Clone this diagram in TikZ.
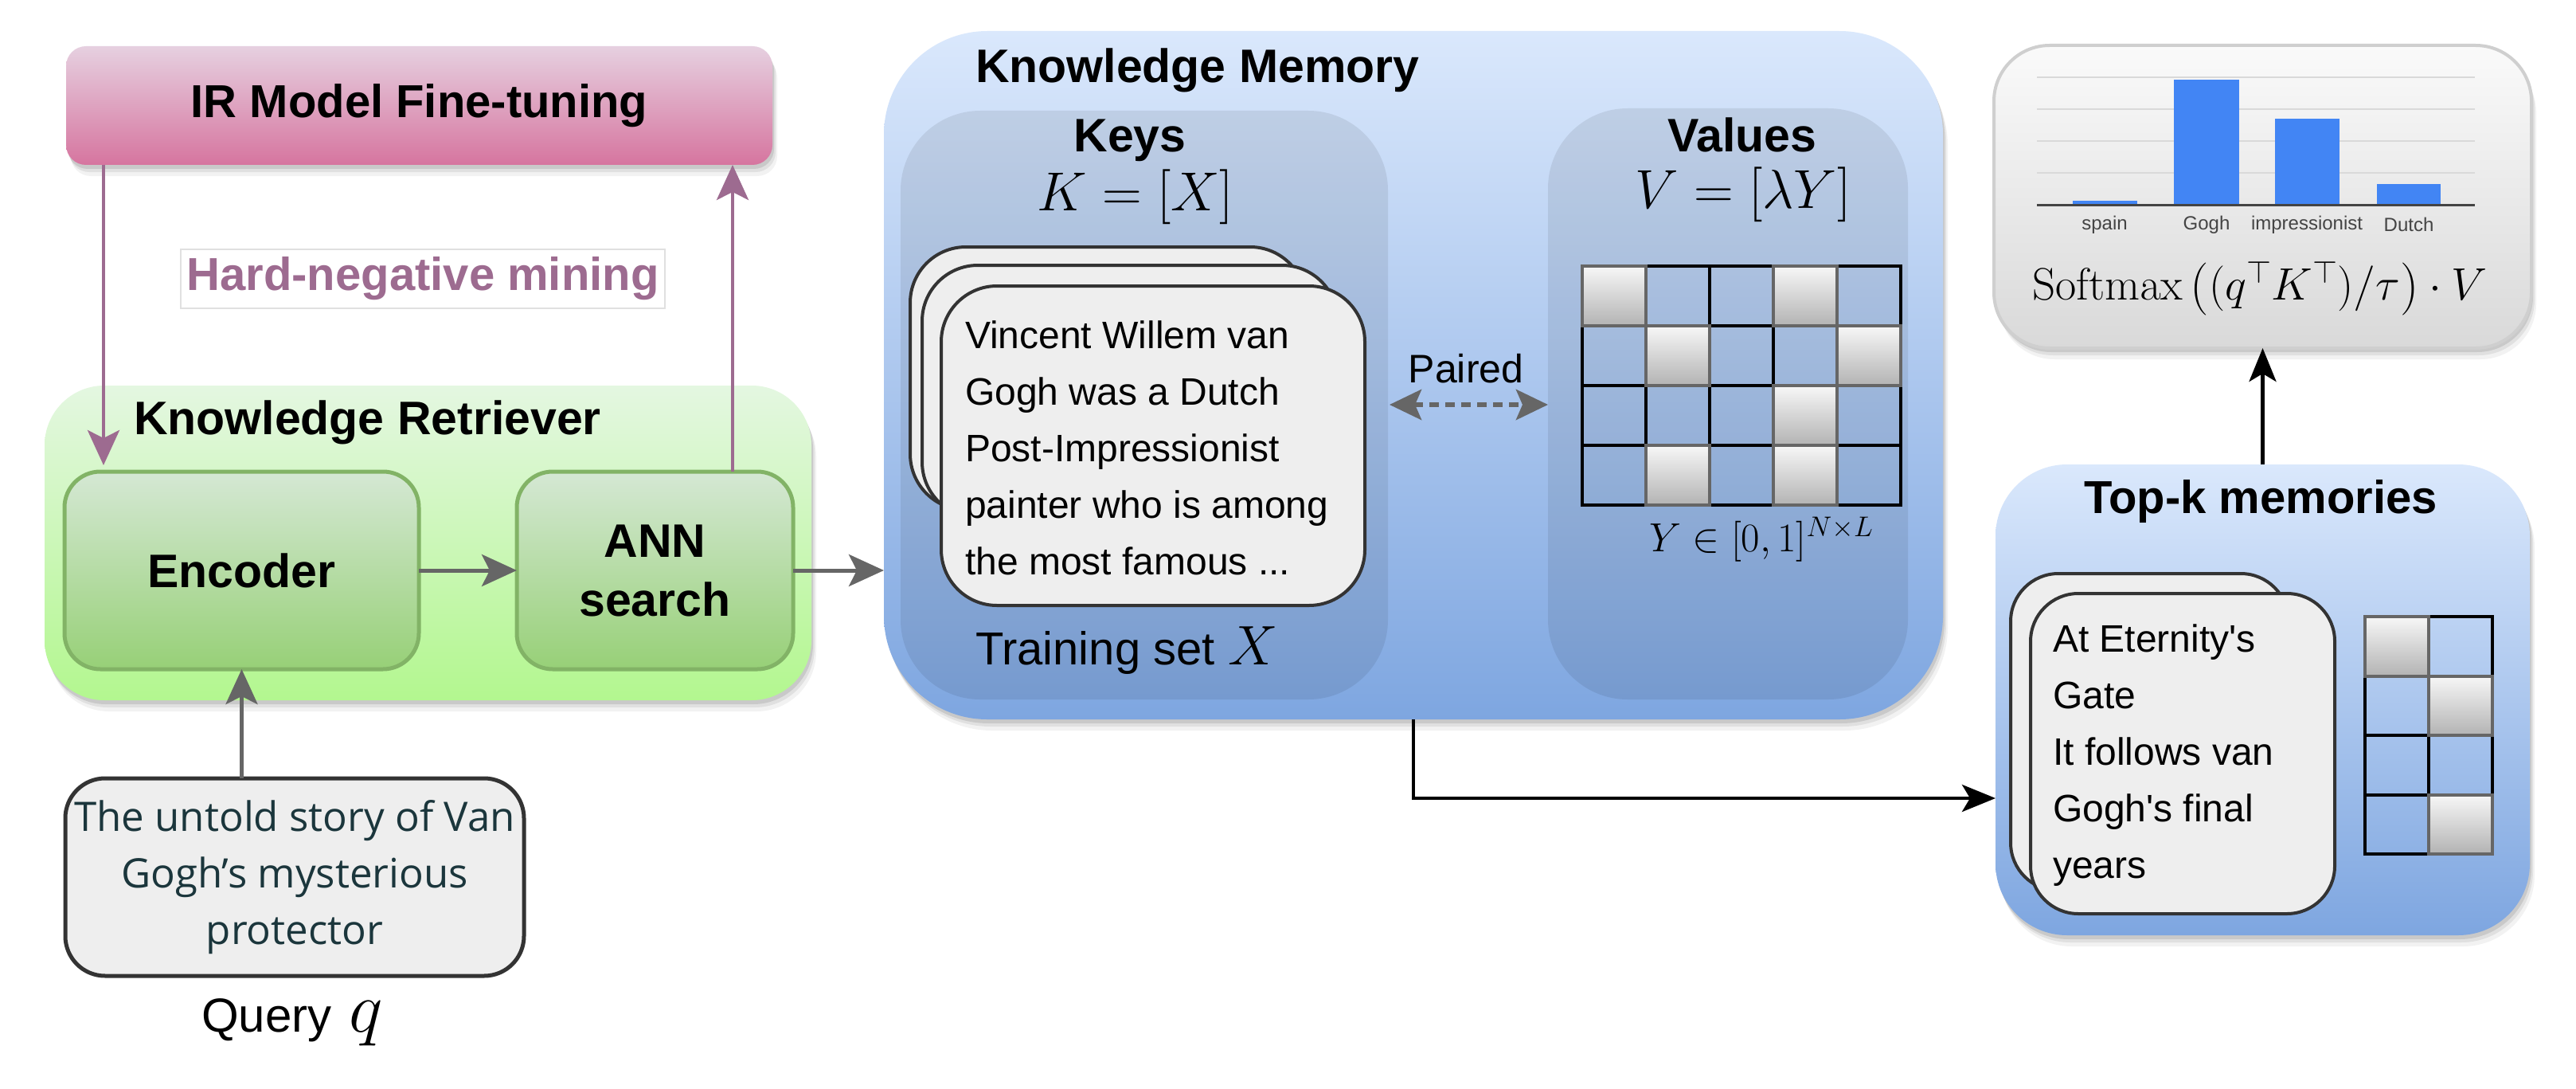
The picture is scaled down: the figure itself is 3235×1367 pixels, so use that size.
\documentclass[tikz,border=0pt]{standalone}
\usepackage{fix-cm}
\usepackage[no-math]{fontspec}
\setmainfont{Liberation Sans}[Ligatures=TeXOff]
\newfontfamily\qfont{Open Sans}
\usetikzlibrary{arrows.meta,shadows,calc}
\newcommand{\fsz}[2]{\fontsize{#1}{#2}\selectfont}
\newcommand{\bigpar}[1]{\raisebox{-3pt}{\fsz{66}{70}$#1$}}
\definecolor{purp}{HTML}{9D6B90}
\definecolor{irtop}{HTML}{E6D0E0}
\definecolor{irbot}{HTML}{D6759F}
\definecolor{krtop}{HTML}{E4F7E1}
\definecolor{krbot}{HTML}{B3F78F}
\definecolor{gtop}{HTML}{D5E8D4}
\definecolor{gbot}{HTML}{97D077}
\definecolor{gline}{HTML}{82B366}
\definecolor{btop}{HTML}{DAE8FC}
\definecolor{bbot}{HTML}{7EA6E0}
\definecolor{cardfill}{HTML}{EEEEEE}
\definecolor{cardline}{HTML}{333333}
\definecolor{arrgray}{HTML}{666666}
\definecolor{qtext}{HTML}{1B363C}
\definecolor{celltop}{HTML}{F7F7F7}
\definecolor{cellbot}{HTML}{B3B3B3}
\definecolor{smtop}{HTML}{FAFAFA}
\definecolor{smbot}{HTML}{D9D9D9}
\definecolor{smline}{HTML}{CFCFCF}
\definecolor{barblue}{HTML}{4285F4}
\definecolor{lblgray}{HTML}{444444}
\begin{document}
\begin{tikzpicture}[x=1pt,y=-1pt,
  every node/.style={inner sep=0pt, outer sep=0pt},
  sh/.style={drop shadow={shadow xshift=2pt,shadow yshift=-5pt,opacity=0.10,fill=black},
             drop shadow={shadow xshift=4pt,shadow yshift=-9pt,opacity=0.07,fill=black},
             drop shadow={shadow xshift=6pt,shadow yshift=-14pt,opacity=0.05,fill=black}},
  garrow/.style={draw=arrgray, line width=5pt, -{Stealth[length=44pt,width=40pt,inset=10pt]}},
  parrow/.style={draw=purp, line width=4.5pt, -{Stealth[length=44pt,width=40pt,inset=10pt]}},
  karrow/.style={draw=black, line width=4.5pt, -{Stealth[length=42pt,width=34pt,inset=10pt]}},
  pairarrow/.style={draw=arrgray, line width=6pt, dash pattern=on 12pt off 8pt,
     {Stealth[length=40pt,width=38pt,inset=8pt]}-{Stealth[length=40pt,width=38pt,inset=8pt]}},
  card/.style={rectangle, draw=cardline, fill=cardfill, line width=4pt, rounded corners=70pt},
  bluecont/.style={rectangle, top color=btop, bottom color=bbot, sh},
  panel/.style={rectangle, fill=black, fill opacity=0.08, rounded corners=100pt},
  grnbox/.style={rectangle, top color=gtop, bottom color=gbot, draw=gline, line width=5pt, rounded corners=45pt},
  ttl/.style={font=\bfseries\fsz{59}{70}},
  cellblue/.style={draw=black, line width=4pt},
  cellgray/.style={draw=arrgray, line width=4pt, top color=celltop, bottom color=cellbot},
  cardtext/.style={align=left, font=\fsz{48}{71}}
]
\useasboundingbox (0,0) rectangle (3235,1367);
\fill[white] (0,0) rectangle (3235,1367);

% ---------- IR model fine-tuning ----------
\node[rectangle, top color=irtop, bottom color=irbot, rounded corners=25pt, sh,
      minimum width=887pt, minimum height=149pt, font=\bfseries\fsz{58}{70}] (ir) at (526.5,132.5) {IR Model Fine-tuning};
\node[rectangle, draw=black!12, line width=2pt, fill=white, minimum width=608pt, minimum height=74pt,
      text=purp, font=\bfseries\fsz{58}{70}] (hn) at (531,350) {Hard-negative mining};

% ---------- Knowledge retriever ----------
\node[rectangle, top color=krtop, bottom color=krbot, rounded corners=75pt, sh,
      minimum width=963pt, minimum height=395pt] (kr) at (537.5,681.5) {};
\node[ttl, anchor=west] (krt) at (168,530) {Knowledge Retriever};
\node[grnbox, minimum width=445pt, minimum height=248pt, font=\bfseries\fsz{59}{70}] (enc) at (303.5,716) {Encoder};
\node[grnbox, minimum width=347pt, minimum height=248pt, align=center, font=\bfseries\fsz{59}{74}] (ann) at (822.5,716) {ANN\\search};

% ---------- Query ----------
\node[rectangle, draw=cardline, fill=cardfill, line width=5pt, rounded corners=50pt,
      minimum width=576pt, minimum height=248pt, align=center, font=\qfont\fsz{51}{71}, text=qtext]
      (q) at (370,1101) {The untold story of Van\\Gogh’s mysterious\\protector};
\node[font=\fsz{60}{70}] (ql) at (367,1283) {Query\hspace{22pt}{\fsz{90}{100}$q$}};

% ---------- Knowledge memory ----------
\node[bluecont, rounded corners=130pt, minimum width=1330pt, minimum height=864pt] (mem) at (1775,471) {};
\node[ttl, anchor=west] (memt) at (1225,88) {Knowledge Memory};
\node[panel, minimum width=612pt, minimum height=739pt] (keys) at (1437,508.5) {};
\node[panel, minimum width=452pt, minimum height=742pt] (vals) at (2170,507) {};
\node[ttl, anchor=base] (keyst) at (1419,190) {Keys};
\node[ttl, anchor=base] (valst) at (2188,190) {Values};
\node[font=\fsz{69}{80}] (kx) at (1426,247) {$K=[X]$};
\node[font=\fsz{69}{80}] (vy) at (2189,244) {$V=[\lambda Y]$};

\node[card, minimum width=497pt, minimum height=330pt] (kc3) at (1391.5,475) {};
\node[card, minimum width=522pt, minimum height=317pt] (kc2) at (1419,491.5) {};
\node[card, minimum width=532pt, minimum height=401pt] (kc1) at (1448,559.5) {};
\node[cardtext, anchor=west] (kct) at (1212,562) {Vincent Willem van\\Gogh was a Dutch\\Post-Impressionist\\painter who is among\\the most famous ...};
\node[anchor=west, font=\fsz{58}{70}] (tsx) at (1225,817) {Training set {\fsz{70}{80}$X$}};

\node[font=\fsz{50}{60}] (paired) at (1841,463) {Paired};
\coordinate (pl) at (1745,508);
\coordinate (pr) at (1944,508);
\draw[pairarrow] (pl) -- (pr);

% values grid
\foreach \r in {0,...,3} \foreach \c in {0,...,4}
  \draw[cellblue] (1987+\c*80,334+\r*75) rectangle ++(80,75);
\foreach \c/\r in {0/0,3/0,1/1,4/1,3/2,1/3,3/3}
  \draw[cellgray] (1987+\c*80,334+\r*75) rectangle ++(80,75);
\node[font=\fsz{51}{60}] (ylab) at (2212,677) {$Y\in[0,1]^{N\times L}$};

% ---------- Top-k memories ----------
\node[bluecont, rounded corners=90pt, minimum width=671pt, minimum height=591pt] (tk) at (2841.5,878.5) {};
\node[font=\bfseries\fsz{58}{70}] (tkt) at (2839,629) {Top-k memories};
\node[card, rounded corners=60pt, minimum width=349pt, minimum height=398pt] (tc2) at (2699.5,919) {};
\node[card, rounded corners=60pt, minimum width=382pt, minimum height=402pt] (tc1) at (2741,946) {};
\node[cardtext, anchor=west] (tct) at (2578,948) {At Eternity's\\Gate\\It follows van\\Gogh's final\\years};
\foreach \r in {0,...,3} \foreach \c in {0,1}
  \draw[cellblue] (2970+\c*80,774+\r*74.5) rectangle ++(80,74.5);
\foreach \c/\r in {0/0,1/1,1/3}
  \draw[cellgray] (2970+\c*80,774+\r*74.5) rectangle ++(80,74.5);

% ---------- Softmax ----------
\node[rectangle, top color=smtop, bottom color=smbot, draw=smline, line width=4pt, rounded corners=70pt, sh,
      minimum width=675pt, minimum height=380pt] (sm) at (2841.5,247) {};
\foreach \y in {97,137,177,217}
  \draw[line width=2pt, black!15] (2558,\y) -- (3108,\y);
\fill[barblue] (2603,252) rectangle (2684,257);
\fill[barblue] (2730,100) rectangle (2812,257);
\fill[barblue] (2857,149) rectangle (2938,257);
\fill[barblue] (2985,231) rectangle (3065,257);
\draw[line width=3pt, lblgray] (2558,257) -- (3108,257);
\node[font=\fsz{24}{28}, text=lblgray] (l1) at (2643,282) {spain};
\node[font=\fsz{24}{28}, text=lblgray] (l2) at (2771,282) {Gogh};
\node[font=\fsz{24}{28}, text=lblgray] (l3) at (2897,282) {impressionist};
\node[font=\fsz{24}{28}, text=lblgray] (l4) at (3025,282) {Dutch};
\node[font=\fsz{57}{66}] (form) at (2838,362) {$\mathrm{Softmax}\,\bigpar{(}(q^{\top}K^{\top})/\tau\bigpar{)}\cdot V$};

% ---------- connectors ----------
\coordinate (p1) at (130,207);
\draw[parrow, shorten >=8pt] (p1) -- (p1 |- enc.north);
\coordinate (p2) at (920,207);
\draw[parrow] (p2 |- ann.north) -- (p2);
\draw[garrow] (enc.east) -- (ann.west);
\draw[garrow] (q.north -| enc.south) -- (enc.south);
\draw[garrow] (ann.east) -- (mem.west |- ann.east);
\coordinate (m1) at (1775,903);
\coordinate (m2) at (2506,1002);
\draw[karrow] (m1) |- (m2);
\draw[karrow] (tk.north) -- (sm.south);
\end{tikzpicture}
\end{document}
